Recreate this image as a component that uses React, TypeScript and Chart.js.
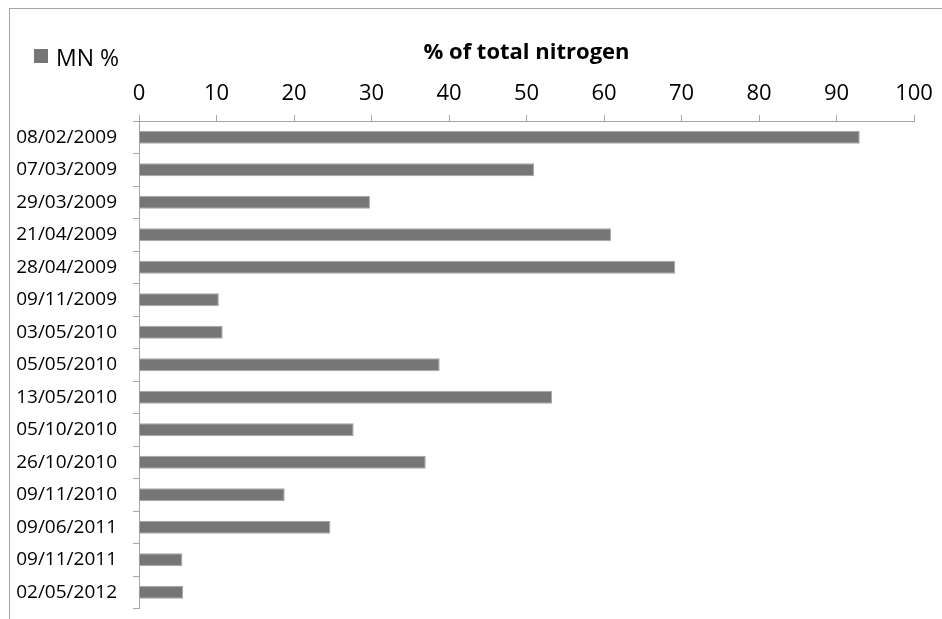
import React, { useEffect, useRef } from "react";
import { Chart, registerables } from "chart.js";

Chart.register(...registerables);

// Sampling dates (category axis, top to bottom)
const sampleDates = [
  "08/02/2009",
  "07/03/2009",
  "29/03/2009",
  "21/04/2009",
  "28/04/2009",
  "09/11/2009",
  "03/05/2010",
  "05/05/2010",
  "13/05/2010",
  "05/10/2010",
  "26/10/2010",
  "09/11/2010",
  "09/06/2011",
  "09/11/2011",
  "02/05/2012",
];

// MN share of total nitrogen, in percent
const mnPercent = [
  93.0, 51.0, 29.8, 60.9, 69.2, 10.3, 10.8, 38.8, 53.3, 27.7, 37.0, 18.8, 24.7, 5.6, 5.7,
];

const seriesLabel = "MN %";
const axisTitle = "% of total nitrogen";

const FONT = "'Open Sans', 'DejaVu Sans', sans-serif";
const BAR_FILL = "#767676";
const BAR_EDGE = "#a8a8a8";
const AXIS_GRAY = "#a6a6a6";

// Legend drawn in the top-left corner, beside the axis title
const cornerLegend = {
  id: "cornerLegend",
  afterDraw(chart: any) {
    const ds = chart.data.datasets[0];
    const ctx = chart.ctx;
    ctx.save();
    ctx.fillStyle = ds.backgroundColor;
    ctx.fillRect(34, 49, 14, 14);
    ctx.fillStyle = "#000";
    ctx.font = `23px ${FONT}`;
    ctx.textAlign = "left";
    ctx.textBaseline = "alphabetic";
    ctx.fillText(ds.label, 56, 66);
    ctx.restore();
  },
};

export default function App() {
  const canvasRef = useRef<HTMLCanvasElement | null>(null);

  useEffect(() => {
    const canvas = canvasRef.current;
    if (!canvas) return;
    const chart = new Chart(canvas, {
      type: "bar",
      data: {
        labels: sampleDates,
        datasets: [
          {
            label: seriesLabel,
            data: mnPercent,
            backgroundColor: BAR_FILL,
            borderColor: BAR_EDGE,
            borderWidth: 1,
            categoryPercentage: 1,
            barPercentage: 0.4,
          },
        ],
      },
      options: {
        indexAxis: "y",
        animation: false,
        responsive: true,
        maintainAspectRatio: false,
        layout: { padding: { left: 0, right: 28, top: 0, bottom: 10.5 } },
        plugins: {
          legend: { display: false },
          tooltip: { enabled: false },
          title: { display: false },
        },
        scales: {
          x: {
            position: "top",
            min: 0,
            max: 100,
            ticks: {
              stepSize: 10,
              color: "#000",
              padding: 8,
              font: { family: FONT, size: 22 },
            },
            grid: {
              drawOnChartArea: false,
              tickLength: 6,
              color: AXIS_GRAY,
            },
            border: { color: AXIS_GRAY, width: 1 },
            title: {
              display: true,
              text: axisTitle,
              color: "#000",
              font: { family: FONT, size: 22, weight: "bold" },
              padding: { top: 40, bottom: 0 },
            },
            afterFit(scale: any) {
              scale.height = 121;
            },
          },
          y: {
            ticks: {
              color: "#000",
              padding: 16,
              font: { family: FONT, size: 19 },
            },
            grid: {
              drawOnChartArea: false,
              offset: true,
              tickLength: 6,
              color: AXIS_GRAY,
            },
            border: { color: AXIS_GRAY, width: 1 },
            afterFit(scale: any) {
              scale.width = 139;
              scale.paddingTop = 0;
              scale.paddingBottom = 0;
            },
          },
        },
      },
      plugins: [cornerLegend],
    });
    return () => chart.destroy();
  }, []);

  return (
    <div
      style={{
        position: "fixed",
        left: 0,
        top: 0,
        width: 942,
        height: 619,
        overflow: "hidden",
        background: "#fff",
      }}
    >
      <div
        style={{
          position: "absolute",
          left: 9,
          top: 8,
          width: 1000,
          height: 1000,
          border: "1px solid #a6a6a6",
        }}
      />
      <div style={{ position: "absolute", left: 0, top: 0, width: 942, height: 619 }}>
        <canvas ref={canvasRef} />
      </div>
    </div>
  );
}
